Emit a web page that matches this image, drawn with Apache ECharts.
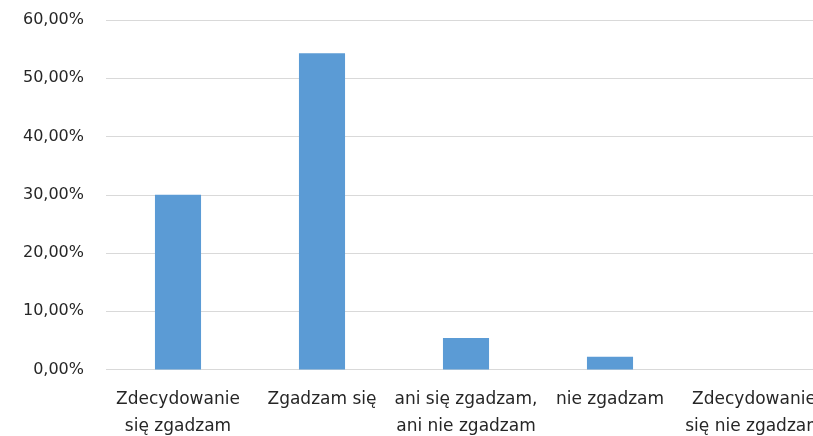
<!DOCTYPE html>
<html>
<head>
<meta charset="utf-8">
<script src="https://cdn.jsdelivr.net/npm/echarts@6/dist/echarts.min.js"></script>
<style>
  html, body { margin: 0; padding: 0; background: #fff; }
  #main { width: 813px; height: 436px; }
</style>
</head>
<body>
<div id="main"></div>
<script>
// categories and values
var categories = [
  'Zdecydowanie\nsię zgadzam',
  'Zgadzam się',
  'ani się zgadzam,\nani nie zgadzam',
  'nie zgadzam',
  'Zdecydowanie\nsię nie zgadzam'
];
var shares = [30.0, 54.3, 5.4, 2.2, 0];
var yTicks = [0, 10, 20, 30, 40, 50, 60];

var chart = echarts.init(document.getElementById('main'));

chart.setOption({
  animation: false,
  grid: {
    left: 106,
    top: 20,
    right: -13,
    bottom: 66.5,
    outerBoundsMode: 'none',
    containLabel: false
  },
  xAxis: {
    type: 'category',
    data: categories,
    axisLine: { show: false },
    axisTick: { show: false },
    axisLabel: {
      interval: 0,
      margin: 17,
      color: '#262626',
      fontFamily: 'DejaVu Sans',
      fontSize: 17,
      lineHeight: 27
    }
  },
  yAxis: {
    type: 'value',
    min: yTicks[0],
    max: yTicks[yTicks.length - 1],
    interval: 10,
    axisLine: { show: false },
    axisTick: { show: false },
    splitLine: { lineStyle: { color: '#d9d9d9', width: 1 } },
    axisLabel: {
      margin: 22,
      color: '#262626',
      fontFamily: 'DejaVu Sans',
      fontSize: 16,
      formatter: function (v) {
        return v.toFixed(2).replace('.', ',') + '%';
      }
    }
  },
  series: [
    {
      type: 'bar',
      data: shares,
      barWidth: '32%',
      itemStyle: { color: '#5b9bd5' }
    }
  ]
});
</script>
</body>
</html>
